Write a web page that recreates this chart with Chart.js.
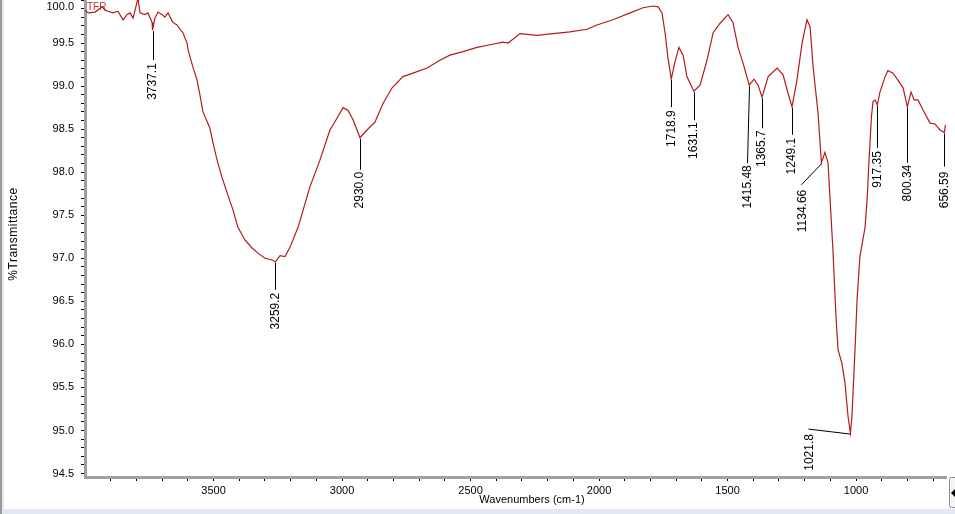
<!DOCTYPE html>
<html>
<head>
<meta charset="utf-8">
<script src="https://cdn.jsdelivr.net/npm/chart.js@4.4.1/dist/chart.umd.min.js"></script>
<style>
  body { margin: 0; background: #fff; }
  canvas { display: block; }
</style>
</head>
<body>
<canvas id="ftir" width="955" height="514"></canvas>
<script>
// spectrum (cm-1, %T)
const wavenumbers = [4000, 3988, 3961, 3934, 3922, 3891, 3872, 3852, 3837, 3825, 3813, 3798, 3794, 3786, 3767, 3755, 3739, 3737.1, 3728, 3716, 3700, 3689, 3677, 3658, 3642, 3630, 3619, 3603, 3599, 3580, 3564, 3553, 3541, 3525, 3514, 3502, 3486, 3467, 3447, 3424, 3405, 3377, 3350, 3327, 3300, 3272, 3259.2, 3241, 3222, 3202, 3171, 3163, 3125, 3086, 3047, 3019, 2996, 2977, 2957, 2930, 2903, 2872, 2840, 2805, 2763, 2724, 2669, 2619, 2580, 2529, 2475, 2424, 2374, 2354, 2307, 2241, 2179, 2113, 2047, 2008, 1946, 1879, 1829, 1790, 1770, 1755, 1743, 1732, 1718.9, 1704, 1689, 1673, 1658, 1631.1, 1607, 1580, 1556, 1529, 1498, 1479, 1459, 1440, 1415.48, 1397, 1381, 1365.7, 1342, 1307, 1284, 1265, 1249.1, 1230, 1210, 1191, 1179, 1167, 1148, 1134.66, 1121, 1109, 1101, 1090, 1078, 1070, 1055, 1043, 1031, 1021.8, 1016, 1004, 996, 985, 965, 957, 950, 940, 934, 926, 917.35, 907, 887, 876, 856, 837, 817, 800.34, 786, 774, 759, 739, 712, 693, 673, 656.59, 652];
const transmittance = [99.88, 99.85, 99.86, 99.92, 99.88, 99.85, 99.87, 99.77, 99.83, 99.85, 99.79, 99.97, 100.02, 99.85, 99.83, 99.85, 99.74, 99.65, 99.79, 99.86, 99.83, 99.80, 99.85, 99.74, 99.71, 99.66, 99.62, 99.50, 99.42, 99.22, 99.07, 98.90, 98.70, 98.59, 98.51, 98.34, 98.14, 97.94, 97.76, 97.56, 97.36, 97.21, 97.12, 97.06, 97.00, 96.98, 96.96, 97.03, 97.02, 97.13, 97.36, 97.44, 97.83, 98.14, 98.49, 98.63, 98.75, 98.72, 98.61, 98.40, 98.49, 98.58, 98.80, 98.98, 99.11, 99.15, 99.21, 99.30, 99.36, 99.40, 99.45, 99.48, 99.51, 99.50, 99.61, 99.59, 99.61, 99.63, 99.66, 99.71, 99.77, 99.85, 99.91, 99.93, 99.92, 99.85, 99.62, 99.33, 99.08, 99.29, 99.45, 99.36, 99.11, 98.94, 99.01, 99.30, 99.62, 99.73, 99.83, 99.74, 99.45, 99.27, 99.01, 99.08, 99.01, 98.87, 99.11, 99.21, 99.13, 98.92, 98.76, 99.07, 99.50, 99.77, 99.69, 99.22, 98.69, 98.11, 98.23, 98.11, 97.68, 97.10, 96.32, 95.94, 95.78, 95.55, 95.16, 94.97, 95.16, 95.94, 96.52, 97.02, 97.36, 97.68, 98.11, 98.65, 98.82, 98.84, 98.78, 98.93, 99.11, 99.18, 99.15, 99.07, 98.98, 98.76, 98.93, 98.84, 98.84, 98.72, 98.57, 98.56, 98.49, 98.46, 98.55];

// picked peaks
const peakLabels = ['3737.1', '3259.2', '2930.0', '1718.9', '1631.1', '1415.48', '1365.7', '1249.1', '1134.66', '1021.8', '917.35', '800.34', '656.59'];
const peakWavenumbers = [3737.1, 3259.2, 2930.0, 1718.9, 1631.1, 1415.48, 1365.7, 1249.1, 1134.66, 1021.8, 917.35, 800.34, 656.59];
const peakTransmittance = [99.65, 96.96, 98.40, 99.08, 98.94, 99.01, 98.87, 98.76, 98.11, 94.97, 98.78, 98.76, 98.46];

const xTickLabels = [3500, 3000, 2500, 2000, 1500, 1000];
const yTickLabels = [94.5, 95.0, 95.5, 96.0, 96.5, 97.0, 97.5, 98.0, 98.5, 99.0, 99.5, 100.0];

// leader line end (lx, ly) and top of the label text (tx, ty), relative to the peak
const leaders = [
    { lx: 0, ly: 30, tx: 0, ty: 33 },
    { lx: 0, ly: 28, tx: 0, ty: 31 },
    { lx: 0, ly: 32, tx: 0, ty: 34 },
    { lx: 0, ly: 28, tx: 0, ty: 31 },
    { lx: 0, ly: 29, tx: 0, ty: 31 },
    { lx: -2, ly: 78, tx: -2, ty: 80 },
    { lx: 0, ly: 31, tx: 0, ty: 33 },
    { lx: 0, ly: 28, tx: 0, ty: 31 },
    { lx: -20, ly: 22, tx: -19, ty: 27 },
    { lx: -42, ly: -4, tx: -41, ty: 1 },
    { lx: 0, ly: 43, tx: 0, ty: 46 },
    { lx: 0, ly: 56, tx: 0, ty: 58 },
    { lx: 0, ly: 34, tx: 0, ty: 39 }
];

const FONT = '"Liberation Sans", Arial, sans-serif';

const extras = {
    id: 'extras',
    beforeDraw(chart) {
        const ctx = chart.ctx;
        ctx.save();
        ctx.fillStyle = '#ffffff';
        ctx.fillRect(0, 0, chart.width, chart.height);
        // window frame bits
        ctx.fillStyle = '#dfe8f3';
        ctx.fillRect(0, 509, chart.width, 5);
        ctx.fillStyle = '#9a9a9a';
        ctx.fillRect(0, 0, 2, chart.height);
        ctx.fillStyle = '#e4e9ef';
        ctx.fillRect(2, 0, 2, chart.height);
        ctx.restore();
    },
    afterDraw(chart) {
        const ctx = chart.ctx;
        const xs = chart.scales.x, ys = chart.scales.y;
        const area = chart.chartArea;
        ctx.save();

        // y tick labels (top one kept inside the canvas)
        ctx.fillStyle = '#000';
        ctx.font = '11px ' + FONT;
        ctx.textAlign = 'right';
        ctx.textBaseline = 'middle';
        yTickLabels.forEach(v => {
            const y = Math.max(ys.getPixelForValue(v), 7);
            ctx.fillText(v.toFixed(1), 74, y);
        });

        // axis titles
        ctx.textAlign = 'center';
        ctx.fillText('Wavenumbers (cm-1)', 532, 500);
        ctx.save();
        ctx.translate(14, 234);
        ctx.rotate(-Math.PI / 2);
        ctx.font = '12px ' + FONT;
        ctx.letterSpacing = '0.5px';
        ctx.fillText('%Transmittance', 0, 0);
        ctx.restore();

        // sample name
        ctx.fillStyle = '#c03030';
        ctx.font = '10px ' + FONT;
        ctx.textAlign = 'left';
        ctx.textBaseline = 'alphabetic';
        ctx.fillText('TFR', 87, 10);

        // peak annotations
        ctx.save();
        ctx.beginPath();
        ctx.rect(area.left, area.top, area.right - area.left + 2, area.bottom - area.top);
        ctx.clip();
        ctx.strokeStyle = '#000';
        ctx.fillStyle = '#000';
        ctx.lineWidth = 1;
        ctx.font = '12px ' + FONT;
        peakWavenumbers.forEach((wn, i) => {
            const px = xs.getPixelForValue(wn);
            const py = ys.getPixelForValue(peakTransmittance[i]);
            const l = leaders[i];
            ctx.beginPath();
            ctx.moveTo(Math.round(px) + 0.5, py + 1);
            ctx.lineTo(Math.round(px + l.lx) + 0.5, py + l.ly);
            ctx.stroke();
            ctx.save();
            ctx.translate(px + l.tx, py + l.ty);
            ctx.rotate(-Math.PI / 2);
            ctx.textAlign = 'right';
            ctx.textBaseline = 'middle';
            ctx.fillText(peakLabels[i], 0, 0);
            ctx.restore();
        });
        ctx.restore();

        // little scroll button on the right
        ctx.strokeStyle = '#8a8a8a';
        ctx.fillStyle = '#f4f4f4';
        ctx.beginPath();
        ctx.roundRect(949.5, 477.5, 8, 30, 2);
        ctx.fill();
        ctx.stroke();
        ctx.fillStyle = '#000';
        ctx.beginPath();
        ctx.moveTo(951, 493);
        ctx.lineTo(955, 489);
        ctx.lineTo(955, 497);
        ctx.closePath();
        ctx.fill();

        ctx.restore();
    }
};

new Chart(document.getElementById('ftir').getContext('2d'), {
    type: 'line',
    data: {
        datasets: [{
            data: wavenumbers.map((w, i) => ({ x: w, y: transmittance[i] })),
            borderColor: '#b31b1b',
            borderWidth: 1.2,
            pointRadius: 0,
            tension: 0,
            fill: false
        }]
    },
    options: {
        responsive: false,
        animation: false,
        layout: { padding: { left: 0, right: 9, top: 0, bottom: 0 } },
        plugins: {
            legend: { display: false },
            tooltip: { enabled: false }
        },
        scales: {
            x: {
                type: 'linear',
                reverse: true,
                min: 650,
                max: 4000,
                afterBuildTicks: scale => {
                    const ticks = [];
                    for (let v = 700; v <= 3900; v += 100) ticks.push({ value: v });
                    scale.ticks = ticks;
                },
                afterFit: scale => {
                    scale.height = 37;
                    scale.paddingLeft = 0;
                    scale.paddingRight = 0;
                },
                ticks: {
                    autoSkip: false,
                    maxRotation: 0,
                    padding: 3,
                    color: '#000',
                    font: { family: FONT, size: 11 },
                    callback: v => xTickLabels.includes(v) ? String(v) : ''
                },
                grid: {
                    drawOnChartArea: false,
                    drawTicks: true,
                    tickLength: 4,
                    tickColor: '#000'
                },
                border: { display: true, color: '#a0a0a0', width: 3 }
            },
            y: {
                min: 94.46,
                max: 100.0,
                afterBuildTicks: scale => {
                    const ticks = [];
                    for (let k = 945; k <= 1000; k++) ticks.push({ value: k / 10 });
                    scale.ticks = ticks;
                },
                afterFit: scale => {
                    scale.width = 85;
                    scale.paddingTop = 0;
                    scale.paddingBottom = 0;
                },
                ticks: { display: false },
                grid: {
                    drawOnChartArea: false,
                    drawTicks: true,
                    tickLength: 4,
                    tickColor: '#000'
                },
                border: { display: true, color: '#a0a0a0', width: 3 }
            }
        }
    },
    plugins: [extras]
});
</script>
</body>
</html>
